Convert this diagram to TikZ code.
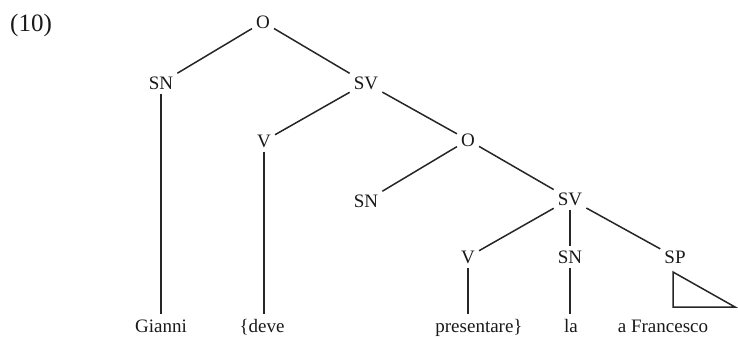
\documentclass[tikz,border=0pt]{standalone}
\usepackage{fontspec}
\setmainfont{Liberation Serif}
\begin{document}
\begin{tikzpicture}[x=1pt,y=-1pt,
  lab/.style={font=\fontsize{19}{21}\selectfont, inner sep=4pt, text=black!90},
  leaf/.style={font=\fontsize{19}{21}\selectfont, inner sep=5pt, anchor=base, text=black!90},
  edge/.style={line width=1.5pt, black!85}]
\useasboundingbox (0,0) rectangle (738,337);
\node[lab, font=\fontsize{25}{27}\selectfont] (ex) at (31,25) {(10)};
\node[lab] (O1) at (263,22) {O};
\node[lab] (SN1) at (161,83) {SN};
\node[lab] (SV1) at (366,83) {SV};
\node[lab] (V1) at (264,141) {V};
\node[lab] (O2) at (468,140) {O};
\node[lab] (SN2) at (366,201) {SN};
\node[lab] (SV2) at (570,199) {SV};
\node[lab] (V2) at (468,257) {V};
\node[lab] (SN3) at (570,257) {SN};
\node[lab] (SP) at (675,257) {SP};
\node[leaf] (gianni) at (161,332) {Gianni};
\node[leaf] (deve) at (262,332) {\{deve};
\node[leaf] (pres) at (479,332) {presentare\}};
\node[leaf] (la) at (571,332) {la};
\node[leaf] (fran) at (663,332) {a Francesco};
\coordinate (t1) at (673,272);
\coordinate (t2) at (673,307);
\coordinate (t3) at (735,307);
\draw[edge] (O1) -- (SN1);
\draw[edge] (O1) -- (SV1);
\draw[edge] (SV1) -- (V1);
\draw[edge] (SV1) -- (O2);
\draw[edge] (O2) -- (SN2);
\draw[edge] (O2) -- (SV2);
\draw[edge] (SV2) -- (V2);
\draw[edge] (SV2) -- (SN3);
\draw[edge] (SV2) -- (SP);
\draw[edge] (SN1.south) -- (SN1.south |- gianni.north);
\draw[edge] (V1.south) -- (V1.south |- deve.north);
\draw[edge] (V2.south) -- (V2.south |- pres.north);
\draw[edge] (SN3.south) -- (SN3.south |- la.north);
\draw[edge, line join=miter] (t1) -- (t2) -- (t3) -- cycle;
\end{tikzpicture}
\end{document}
